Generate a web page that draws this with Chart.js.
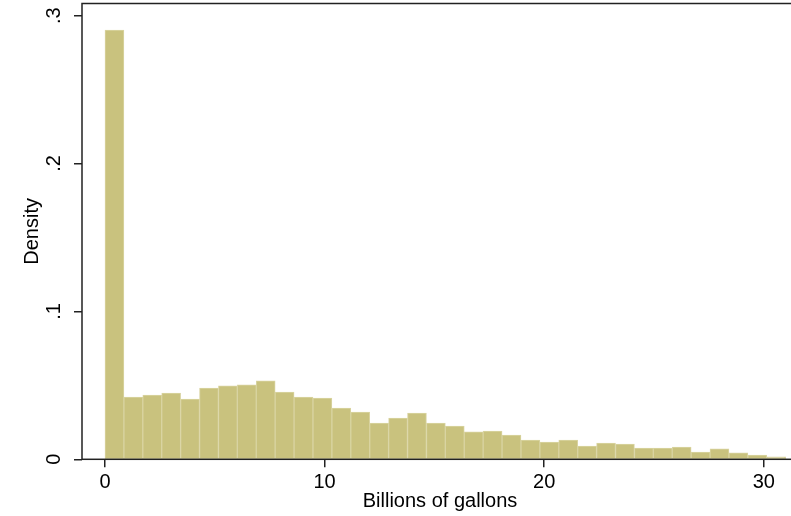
<!DOCTYPE html>
<html>
<head>
<meta charset="utf-8">
<script src="https://cdn.jsdelivr.net/npm/chart.js@4/dist/chart.umd.min.js"></script>
<style>
  html, body { margin: 0; padding: 0; background: #ffffff; overflow: hidden; }
  #wrap { width: 791px; height: 516px; overflow: hidden; position: relative; }
  canvas { display: block; }
</style>
</head>
<body>
<div id="wrap"><canvas id="hist" width="798" height="516"></canvas></div>
<script>
// Histogram bins: first bin starts at binStart, every bin is binWidth wide
const binStart = 0;
const binWidth = 0.861;
const density = [
  0.2903, 0.0421, 0.0435, 0.0448, 0.0408, 0.0482, 0.0496, 0.0503, 0.0530,
  0.0455, 0.0421, 0.0414, 0.0347, 0.0320, 0.0245, 0.0279, 0.0313, 0.0245,
  0.0225, 0.0185, 0.0191, 0.0164, 0.0130, 0.0117, 0.0130, 0.0090, 0.0110,
  0.0103, 0.0076, 0.0076, 0.0083, 0.0049, 0.0070, 0.0043, 0.0029, 0.0016
];
const xTicks = [0, 10, 20, 30];
const yTicks = [0, 0.1, 0.2, 0.3];
const xTitle = 'Billions of gallons';
const yTitle = 'Density';

const FONT = "'Liberation Sans', Arial, Helvetica, sans-serif";
const INK = '#000000';
const AXIS = '#222222';

// Outline around the plot region
const framePlugin = {
  id: 'plotFrame',
  afterDatasetsDraw(chart) {
    const { ctx, chartArea: a } = chart;
    ctx.save();
    ctx.strokeStyle = AXIS;
    ctx.lineWidth = 1.5;
    ctx.strokeRect(a.left, a.top, a.right - a.left, a.bottom - a.top);
    ctx.restore();
  }
};

new Chart(document.getElementById('hist'), {
  type: 'bar',
  data: {
    datasets: [{
      data: density.map((d, i) => ({ x: binStart + (i + 0.5) * binWidth, y: d })),
      backgroundColor: '#C9C27E',
      borderColor: '#D9D4A2',
      borderWidth: 1,
      borderSkipped: false,
      barPercentage: 1,
      categoryPercentage: 1
    }]
  },
  options: {
    responsive: false,
    animation: false,
    events: [],
    layout: { padding: { top: 3.5, left: 0, right: 0, bottom: 0 } },
    plugins: { legend: { display: false }, tooltip: { enabled: false } },
    scales: {
      x: {
        type: 'linear',
        offset: false,
        min: -1.047,
        max: 31.557,
        afterBuildTicks(scale) { scale.ticks = xTicks.map(v => ({ value: v })); },
        afterFit(scale) {
          scale.height = 56.7;
          scale.paddingLeft = 0; scale.paddingRight = 0;
        },
        border: { display: false },
        grid: { display: true, offset: false, drawOnChartArea: false, drawTicks: true, tickLength: 8, color: AXIS, lineWidth: 1.5 },
        ticks: {
          color: INK, padding: 3, maxRotation: 0, minRotation: 0,
          font: { family: FONT, size: 20 },
          callback: v => String(v)
        },
        title: {
          display: true, text: xTitle, color: INK,
          font: { family: FONT, size: 20 },
          padding: { top: 0, bottom: 2.6 }
        }
      },
      y: {
        min: 0,
        max: 0.3082,
        afterBuildTicks(scale) { scale.ticks = yTicks.map(v => ({ value: v })); },
        afterFit(scale) {
          scale.width = 82;
          scale.paddingTop = 0; scale.paddingBottom = 0;
        },
        border: { display: false },
        grid: { display: true, drawOnChartArea: false, drawTicks: true, tickLength: 8, color: AXIS, lineWidth: 1.5 },
        ticks: {
          color: INK, padding: 11, minRotation: 90, maxRotation: 90, crossAlign: 'center',
          font: { family: FONT, size: 20 },
          callback: v => (v === 0 ? '0' : '.' + Math.round(v * 10))
        },
        title: {
          display: true, text: yTitle, color: INK,
          font: { family: FONT, size: 20 },
          padding: { top: 20.4, bottom: 0 }
        }
      }
    }
  },
  plugins: [framePlugin]
});
</script>
</body>
</html>
